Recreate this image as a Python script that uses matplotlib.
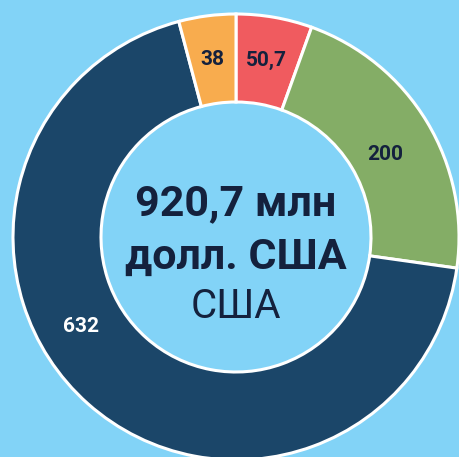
import numpy as np
import matplotlib

matplotlib.use("Agg")
import matplotlib.pyplot as plt

plt.rcParams["font.family"] = ["Roboto", "DejaVu Sans"]

# slices, clockwise from 12 o'clock
values = [50.7, 200, 632, 38]
labels = ["50,7", "200", "632", "38"]
colors = ["#f05b5f", "#84ad66", "#1b4669", "#f8ac4e"]
label_colors = ["#14213d", "#14213d", "white", "#14213d"]
total_text = ["920,7 млн", "долл. США"]
country = "США"

BG = "#82d3f7"
W, H = 460, 457
CX, CY = 236, 220
R_OUT, R_IN = 223, 135
LABEL_ANGLE_OVERRIDE = {1: 29, 2: -150}  # labels that sit off their mid-angle

fig = plt.figure(figsize=(W / 100, H / 100), dpi=100, facecolor=BG)
ax = fig.add_axes([0, 0, 1, 1])
ax.set_facecolor(BG)

wedges, _ = ax.pie(
    values,
    colors=colors,
    startangle=90,
    counterclock=False,
    center=(CX, CY),
    radius=R_OUT,
    wedgeprops=dict(width=R_OUT - R_IN, edgecolor="white", linewidth=2.2),
)

r_lab = (R_OUT + R_IN) / 2
for i, w in enumerate(wedges):
    ang = LABEL_ANGLE_OVERRIDE.get(i, (w.theta1 + w.theta2) / 2)
    r = r_lab - 8 if i == 1 else r_lab
    x = CX + r * np.cos(np.radians(ang))
    y = CY + r * np.sin(np.radians(ang))
    ax.text(x, y, labels[i], ha="center", va="center", fontsize=15,
            fontweight="bold", color=label_colors[i])

ax.text(CX, CY + 33, total_text[0], ha="center", va="center", fontsize=31,
        fontweight="bold", color="#14213d")
ax.text(CX, CY - 20, total_text[1], ha="center", va="center", fontsize=31,
        fontweight="bold", color="#14213d")
ax.text(CX, CY - 69, country, ha="center", va="center", fontsize=29,
        color="#14213d")

ax.set_xlim(0, W)
ax.set_ylim(0, H)
ax.set_aspect("equal")
ax.axis("off")

fig.savefig("out.png", dpi=100, facecolor=BG)
plt.close(fig)
